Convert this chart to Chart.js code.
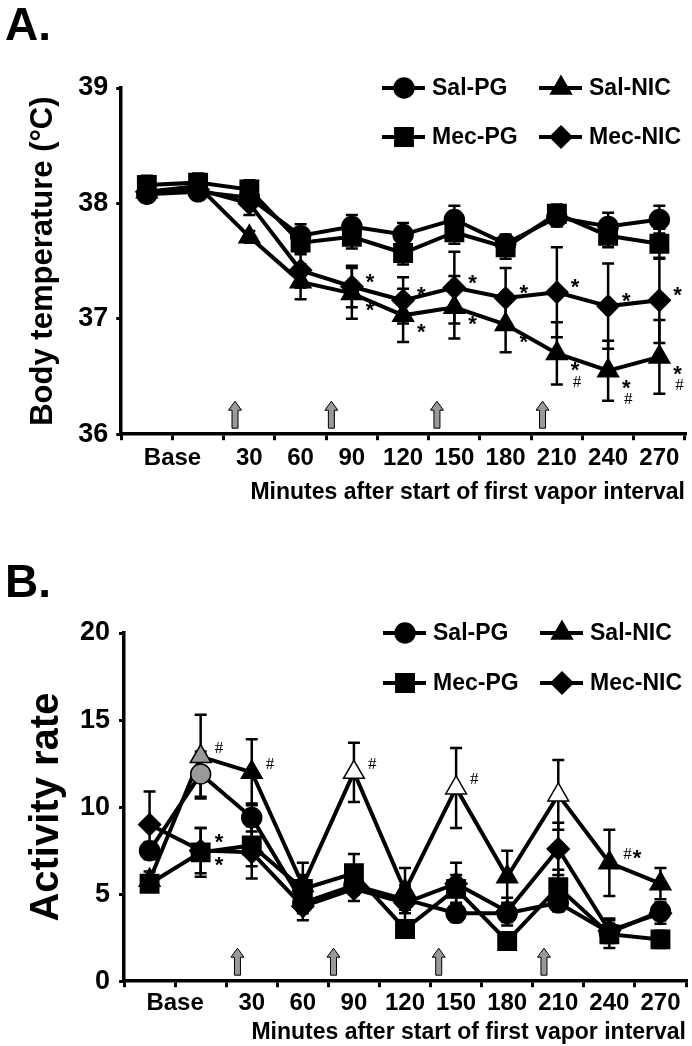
<!DOCTYPE html>
<html lang="en">
<head>
  <meta charset="UTF-8">
  <title>Body temperature and activity after vapor exposure</title>
  <script src="https://cdn.jsdelivr.net/npm/chart.js"></script>
  <style>
    body {
      margin: 0;
      padding: 0;
      background: #fff;
    }
    .panel {
      position: relative;
      width: 692px;
    }
    #panelA { height: 520px; }
    #panelB { height: 526px; }
  </style>
</head>
<body>
  <div class="panel" id="panelA"><canvas id="tempChart"></canvas></div>
  <div class="panel" id="panelB"><canvas id="actChart"></canvas></div>

  <script>
    // time points (two baseline samples share the "Base" label)
    const timeLabels = ['Base1', 'Base2', '30', '60', '90', '120', '150', '180', '210', '240', '270'];
    const seriesNames = ['Sal-PG', 'Mec-PG', 'Sal-NIC', 'Mec-NIC'];

    // A. body temperature (mean, SEM)
    const tempSalPG = [38.08, 38.10, 38.05, 37.72, 37.80, 37.73, 37.86, 37.65, 37.88, 37.80, 37.86];
    const tempMecPG = [38.16, 38.18, 38.12, 37.66, 37.71, 37.57, 37.75, 37.62, 37.91, 37.72, 37.65];
    const tempSalNIC = [38.10, 38.15, 37.71, 37.32, 37.22, 37.03, 37.10, 36.95, 36.70, 36.55, 36.67];
    const tempMecNIC = [38.10, 38.12, 38.00, 37.42, 37.28, 37.16, 37.27, 37.18, 37.23, 37.11, 37.16];
    const tempSalPGSem = [0.06, 0.05, 0.08, 0.10, 0.10, 0.10, 0.12, 0.08, 0.08, 0.12, 0.12];
    const tempMecPGSem = [0.08, 0.08, 0.08, 0.10, 0.10, 0.10, 0.10, 0.10, 0.08, 0.10, 0.13];
    const tempSalNICSem = [0.06, 0.06, 0.05, 0.15, 0.22, 0.23, 0.27, 0.24, 0.27, 0.26, 0.32];
    const tempMecNICSem = [0.06, 0.06, 0.10, 0.15, 0.18, 0.20, 0.31, 0.26, 0.39, 0.37, 0.37];
    const tempTicks = [36, 37, 38, 39];

    // B. activity rate (mean, SEM)
    const actSalPG = [7.5, 11.9, 9.4, 4.5, 5.5, 4.7, 3.9, 3.9, 4.5, 2.8, 4.0];
    const actMecPG = [5.6, 7.4, 7.8, 5.3, 6.2, 3.0, 5.3, 2.3, 5.4, 2.7, 2.4];
    const actSalNIC = [5.8, 12.9, 12.0, 5.5, 12.0, 5.2, 11.1, 6.0, 10.7, 6.8, 5.6];
    const actMecNIC = [9.0, 7.5, 7.4, 4.3, 5.3, 4.5, 5.6, 4.0, 7.6, 2.9, 3.9];
    const actSalPGSem = [0.5, 1.3, 0.8, 0.6, 0.5, 0.6, 0.5, 0.5, 0.5, 0.5, 0.5];
    const actMecPGSem = [0.4, 1.4, 1.2, 0.8, 1.1, 0.5, 0.8, 0.5, 1.0, 0.8, 0.5];
    const actSalNICSem = [0.5, 2.4, 1.9, 1.3, 1.7, 1.3, 2.3, 1.5, 2.0, 1.9, 0.9];
    const actMecNICSem = [1.9, 1.3, 1.5, 0.8, 0.7, 1.0, 1.2, 0.8, 1.5, 0.7, 0.6];
    const actTicks = [0, 5, 10, 15, 20];

    // vapor intervals, in time-point units along the x axis
    const vaporArrows = [1.72, 3.6, 5.66, 7.72];

    // significance marks
    const tempSalNICMarks = ['', '', '', '', '*', '*', '*', '*', '*#', '*#', '*#'];
    const tempMecNICMarks = ['', '', '', '', '*', '*', '*', '*', '*', '*', '*'];
    const actSalNICMarks = ['', '#', '#', '', '#', '', '#', '', '', '#*', ''];
    const actMecNICMarks = ['', '*', '', '', '', '', '', '', '', '', ''];
    const actMecPGMarks = ['', '*', '', '', '', '', '', '', '', '', ''];

    const FONT = "'Liberation Sans', Arial, sans-serif";
    const GRAY = '#999999';

    const markerStyle = {
      'Sal-PG': { shape: 'circle', radius: 10 },
      'Mec-PG': { shape: 'rect', radius: 13 },
      'Sal-NIC': { shape: 'triangle', radius: 12 },
      'Mec-NIC': { shape: 'rectRot', radius: 11 }
    };

    function drawMarker(ctx, shape, x, y, r, fill) {
      ctx.save();
      ctx.fillStyle = fill;
      ctx.strokeStyle = '#000';
      ctx.lineWidth = 1.5;
      ctx.beginPath();
      if (shape === 'circle') {
        ctx.arc(x, y, r, 0, Math.PI * 2);
      } else if (shape === 'rect') {
        const s = r * Math.SQRT1_2;
        ctx.rect(x - s, y - s, 2 * s, 2 * s);
      } else if (shape === 'triangle') {
        const h = r * Math.sin(Math.PI / 3);
        ctx.moveTo(x, y - r);
        ctx.lineTo(x + h, y + r / 2);
        ctx.lineTo(x - h, y + r / 2);
        ctx.closePath();
      } else {
        ctx.moveTo(x, y - r);
        ctx.lineTo(x + r, y);
        ctx.lineTo(x, y + r);
        ctx.lineTo(x - r, y);
        ctx.closePath();
      }
      ctx.fill();
      ctx.stroke();
      ctx.restore();
    }

    // error bars behind the markers
    const errorBarPlugin = {
      id: 'errorBars',
      beforeDatasetsDraw(chart) {
        const ctx = chart.ctx;
        const yScale = chart.scales.y;
        ctx.save();
        ctx.strokeStyle = '#000';
        ctx.lineWidth = 2.5;
        chart.data.datasets.forEach((ds, di) => {
          const meta = chart.getDatasetMeta(di);
          meta.data.forEach((pt, i) => {
            const sem = ds.sem[i];
            if (!sem) return;
            const yTop = yScale.getPixelForValue(ds.data[i] + sem);
            const yBot = yScale.getPixelForValue(ds.data[i] - sem);
            ctx.beginPath();
            ctx.moveTo(pt.x, yTop);
            ctx.lineTo(pt.x, yBot);
            ctx.moveTo(pt.x - 6, yTop);
            ctx.lineTo(pt.x + 6, yTop);
            ctx.moveTo(pt.x - 6, yBot);
            ctx.lineTo(pt.x + 6, yBot);
            ctx.stroke();
          });
        });
        ctx.restore();
      }
    };

    // panel letter, legend, vapor arrows, "Base" label, significance marks
    const decorPlugin = {
      id: 'decor',
      afterDraw(chart, args, opts) {
        const ctx = chart.ctx;
        const area = chart.chartArea;
        const xScale = chart.scales.x;

        ctx.save();
        ctx.fillStyle = '#000';
        ctx.textAlign = 'left';
        ctx.textBaseline = 'alphabetic';
        ctx.font = 'bold 46px ' + FONT;
        ctx.fillText(opts.panel, 5, opts.panelY);

        // shared "Base" label under the two baseline points
        const items = xScale.getLabelItems ? xScale.getLabelItems() : [];
        const ref = items.find(it => it.label === '30');
        const bx = (xScale.getPixelForValue(0) + xScale.getPixelForValue(1)) / 2;
        ctx.font = 'bold 24px ' + FONT;
        ctx.textAlign = 'center';
        if (ref) {
          ctx.textBaseline = ref.options.textBaseline;
          ctx.fillText('Base', bx, ref.options.translation[1] + ref.textOffset);
        } else {
          ctx.textBaseline = 'middle';
          ctx.fillText('Base', bx, xScale.top + 24);
        }

        // legend, 2 x 2
        const cols = [area.right - 281, area.right - 124];
        const rows = [area.top, area.top + opts.legendGap];
        const pos = [[0, 0], [0, 1], [1, 0], [1, 1]];
        seriesNames.forEach((name, k) => {
          const x = cols[pos[k][0]];
          const y = rows[pos[k][1]];
          ctx.strokeStyle = '#000';
          ctx.lineWidth = 4;
          ctx.beginPath();
          ctx.moveTo(x - 22, y);
          ctx.lineTo(x + 21, y);
          ctx.stroke();
          const m = markerStyle[name];
          drawMarker(ctx, m.shape, x, y, m.radius, '#000');
          ctx.fillStyle = '#000';
          ctx.font = 'bold 23px ' + FONT;
          ctx.textAlign = 'left';
          ctx.textBaseline = 'middle';
          ctx.fillText(name, x + 28, y + 1);
        });

        // vapor interval arrows
        vaporArrows.forEach(v => {
          const x = xScale.getPixelForValue(v);
          const yb = area.bottom - 6;
          const yt = yb - 27;
          ctx.beginPath();
          ctx.moveTo(x, yt);
          ctx.lineTo(x + 6.5, yt + 9);
          ctx.lineTo(x + 3, yt + 9);
          ctx.lineTo(x + 3, yb);
          ctx.lineTo(x - 3, yb);
          ctx.lineTo(x - 3, yt + 9);
          ctx.lineTo(x - 6.5, yt + 9);
          ctx.closePath();
          ctx.fillStyle = GRAY;
          ctx.fill();
          ctx.strokeStyle = '#000';
          ctx.lineWidth = 1;
          ctx.stroke();
        });

        // significance marks
        (opts.marks || []).forEach(set => {
          const meta = chart.getDatasetMeta(set.dataset);
          set.text.forEach((txt, i) => {
            if (!txt) return;
            const pt = meta.data[i];
            let x = pt.x + set.dx;
            let y = pt.y + set.dy;
            for (const ch of txt) {
              ctx.fillStyle = '#000';
              ctx.textAlign = 'left';
              ctx.textBaseline = 'middle';
              ctx.font = ch === '#' ? '17px "Liberation Serif", serif' : 'bold 22px ' + FONT;
              ctx.fillText(ch, x, ch === '*' ? y + 4 : y);
              if (set.stack === 'v') {
                y += 15;
                x += 2;
              } else {
                x += ctx.measureText(ch).width + 1;
              }
            }
          });
        });
        ctx.restore();
      }
    };

    function makeDataset(name, data, sem, fills) {
      const m = markerStyle[name];
      return {
        label: name,
        data: data,
        sem: sem,
        borderColor: '#000',
        borderWidth: 4,
        tension: 0,
        pointStyle: m.shape,
        pointRadius: m.radius,
        pointHoverRadius: m.radius,
        pointBackgroundColor: fills || '#000',
        pointBorderColor: '#000',
        pointBorderWidth: 1.5,
        clip: false
      };
    }

    function createChart(canvasId, cfg) {
      const ctx = document.getElementById(canvasId).getContext('2d');
      return new Chart(ctx, {
        type: 'line',
        data: {
          labels: timeLabels,
          datasets: cfg.datasets
        },
        options: {
          responsive: true,
          maintainAspectRatio: false,
          animation: false,
          events: [],
          layout: { autoPadding: false, padding: cfg.padding },
          scales: {
            x: {
              type: 'category',
              offset: true,
              afterFit: scale => {
                scale.paddingLeft = 0;
                scale.paddingRight = 0;
              },
              grid: {
                offset: true,
                drawOnChartArea: false,
                drawTicks: true,
                tickLength: 6,
                color: '#000',
                lineWidth: 3
              },
              border: { display: true, color: '#000', width: 3.5 },
              ticks: {
                autoSkip: false,
                maxRotation: 0,
                padding: cfg.xTickPadding,
                color: '#000',
                font: { family: FONT, size: 24, weight: 'bold' },
                callback: (v, i) => (i < 2 ? '' : timeLabels[i])
              },
              title: {
                display: true,
                text: 'Minutes after start of first vapor interval',
                align: 'end',
                color: '#000',
                font: { family: FONT, size: 23, weight: 'bold', lineHeight: 1.0 },
                padding: cfg.xTitlePadding
              }
            },
            y: {
              min: cfg.yTicks[0],
              max: cfg.yTicks[cfg.yTicks.length - 1],
              afterBuildTicks: scale => {
                scale.ticks = cfg.yTicks.map(v => ({ value: v }));
              },
              grid: {
                drawOnChartArea: false,
                tickLength: 5,
                color: '#000',
                lineWidth: 3
              },
              border: { display: true, color: '#000', width: 3.5 },
              ticks: {
                padding: cfg.yTickPadding,
                color: '#000',
                font: { family: FONT, size: 27, weight: 'bold' }
              },
              title: {
                display: true,
                text: cfg.yTitle,
                color: '#000',
                font: { family: FONT, size: cfg.yTitleSize, weight: 'bold' },
                padding: cfg.yTitlePadding
              }
            }
          },
          plugins: {
            legend: { display: false },
            tooltip: { enabled: false },
            decor: {
              panel: cfg.panel,
              panelY: cfg.panelY,
              legendGap: cfg.legendGap,
              marks: cfg.marks
            }
          }
        },
        plugins: [errorBarPlugin, decorPlugin]
      });
    }

    const grayBase2 = timeLabels.map((_, i) => (i === 1 ? GRAY : '#000'));
    const salNicFills = timeLabels.map((_, i) => {
      if (i === 1) return GRAY;
      if (i === 4 || i === 6 || i === 8) return '#fff';
      return '#000';
    });

    createChart('tempChart', {
      panel: 'A.',
      panelY: 40,
      legendGap: 49,
      padding: { top: 88, left: 20, right: 7, bottom: 14 },
      xTickPadding: 4,
      xTitlePadding: { top: 4, bottom: 2 },
      yTitle: 'Body temperature (°C)',
      yTitleSize: 31,
      yTitlePadding: { top: 5, bottom: 8 },
      yTickPadding: 8,
      yTicks: tempTicks,
      datasets: [
        makeDataset('Sal-PG', tempSalPG, tempSalPGSem),
        makeDataset('Mec-PG', tempMecPG, tempMecPGSem),
        makeDataset('Sal-NIC', tempSalNIC, tempSalNICSem),
        makeDataset('Mec-NIC', tempMecNIC, tempMecNICSem)
      ],
      marks: [
        { dataset: 2, text: tempSalNICMarks, dx: 14, dy: 14, stack: 'v' },
        { dataset: 3, text: tempMecNICMarks, dx: 14, dy: -8, stack: 'h' }
      ]
    });

    createChart('actChart', {
      panel: 'B.',
      panelY: 77,
      legendGap: 50,
      padding: { top: 113, left: 20, right: 6, bottom: 0 },
      xTickPadding: 1.5,
      xTitlePadding: { top: 2, bottom: 2 },
      yTitle: 'Activity rate',
      yTitleSize: 40,
      yTitlePadding: { top: 3, bottom: 0 },
      yTickPadding: 9,
      yTicks: actTicks,
      datasets: [
        makeDataset('Sal-PG', actSalPG, actSalPGSem, grayBase2),
        makeDataset('Mec-PG', actMecPG, actMecPGSem),
        makeDataset('Sal-NIC', actSalNIC, actSalNICSem, salNicFills),
        makeDataset('Mec-NIC', actMecNIC, actMecNICSem)
      ],
      marks: [
        { dataset: 2, text: actSalNICMarks, dx: 14, dy: -8, stack: 'h' },
        { dataset: 3, text: actMecNICMarks, dx: 14, dy: -12, stack: 'h' },
        { dataset: 1, text: actMecPGMarks, dx: 14, dy: 10, stack: 'h' }
      ]
    });
  </script>
</body>
</html>
